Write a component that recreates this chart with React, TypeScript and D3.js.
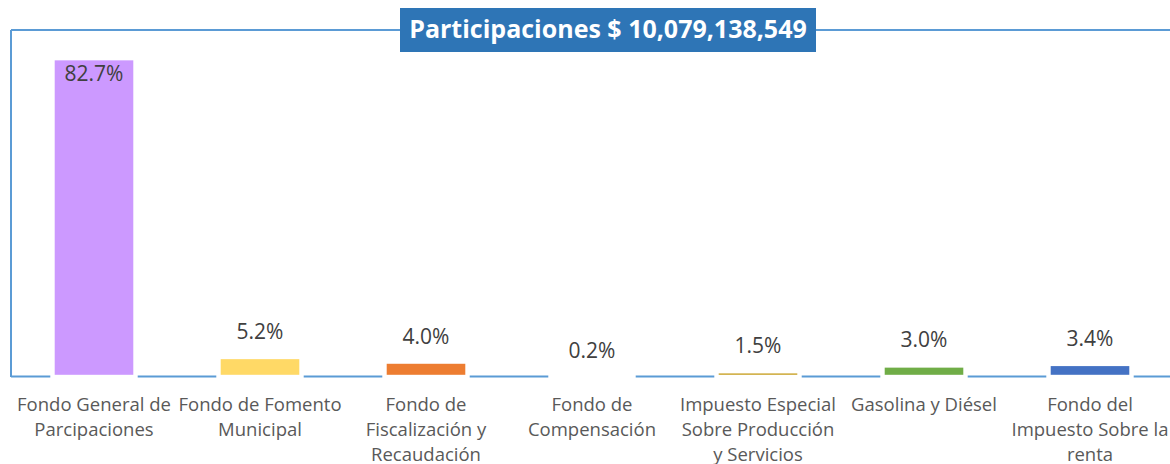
import React from "react";
import * as d3 from "d3";

const categories: string[][] = [
  ["Fondo General de", "Parcipaciones"],
  ["Fondo de Fomento", "Municipal"],
  ["Fondo de", "Fiscalización y", "Recaudación"],
  ["Fondo de", "Compensación"],
  ["Impuesto Especial", "Sobre Producción", "y Servicios"],
  ["Gasolina y Diésel"],
  ["Fondo del", "Impuesto Sobre la", "renta"],
];
const values: number[] = [82.7, 5.2, 4.0, 0.2, 1.5, 3.0, 3.4];
const colors: string[] = ["#CC99FF", "#FFD966", "#ED7D31", "#A5A5A5", "#C9A227", "#70AD47", "#4472C4"];
const title = "Participaciones $ 10,079,138,549";
const yMax = 90;

export default function App() {
  const W = 1170;
  const H = 464;
  const left = 11;
  const top = 30;
  const baseY = 377;
  const x = d3
    .scaleBand<number>()
    .domain(d3.range(values.length))
    .range([left, left + 166 * values.length])
    .paddingInner(0.5)
    .paddingOuter(0.25);
  const y = d3.scaleLinear().domain([0, yMax]).range([baseY, top]);
  const font = "'Open Sans', sans-serif";
  const blue = "#5B9BD5";

  return (
    <svg width={W} height={H} style={{ position: "absolute", left: 0, top: 0 }} fontFamily={font}>
      <rect x={0} y={0} width={W} height={H} fill="#fff" />
      {/* frame */}
      <line x1={left} x2={W} y1={top} y2={top} stroke={blue} strokeWidth={2} />
      <line x1={left} x2={left} y1={top} y2={baseY} stroke={blue} strokeWidth={2} />
      <line x1={left} x2={W} y1={baseY - 0.5} y2={baseY - 0.5} stroke={blue} strokeWidth={2} />
      {/* bars */}
      {values.map((v, i) => (
        <rect
          key={"b" + i}
          x={x(i)}
          y={y(v)}
          width={x.bandwidth()}
          height={baseY - y(v)}
          fill={colors[i]}
          stroke="#fff"
          strokeWidth={4.4}
        />
      ))}
      {/* value labels */}
      {values.map((v, i) => (
        <text
          key={"v" + i}
          x={x(i)! + x.bandwidth() / 2}
          y={i === 0 ? y(v) + 23 : y(v) - 18}
          textAnchor="middle"
          fontSize={21}
          fill="#404040"
        >
          {v.toFixed(1) + "%"}
        </text>
      ))}
      {/* category labels */}
      {categories.map((lines, i) => (
        <text
          key={"c" + i}
          x={x(i)! + x.bandwidth() / 2}
          y={411}
          textAnchor="middle"
          fontSize={18.5}
          fill="#595959"
        >
          {lines.map((l, j) => (
            <tspan key={j} x={x(i)! + x.bandwidth() / 2} y={411 + j * 25}>
              {l}
            </tspan>
          ))}
        </text>
      ))}
      {/* title */}
      <rect x={400} y={8} width={416} height={44} fill="#2E75B6" />
      <text x={608} y={38} textAnchor="middle" fontSize={25} fontWeight="bold" fill="#fff">
        {title}
      </text>
    </svg>
  );
}
